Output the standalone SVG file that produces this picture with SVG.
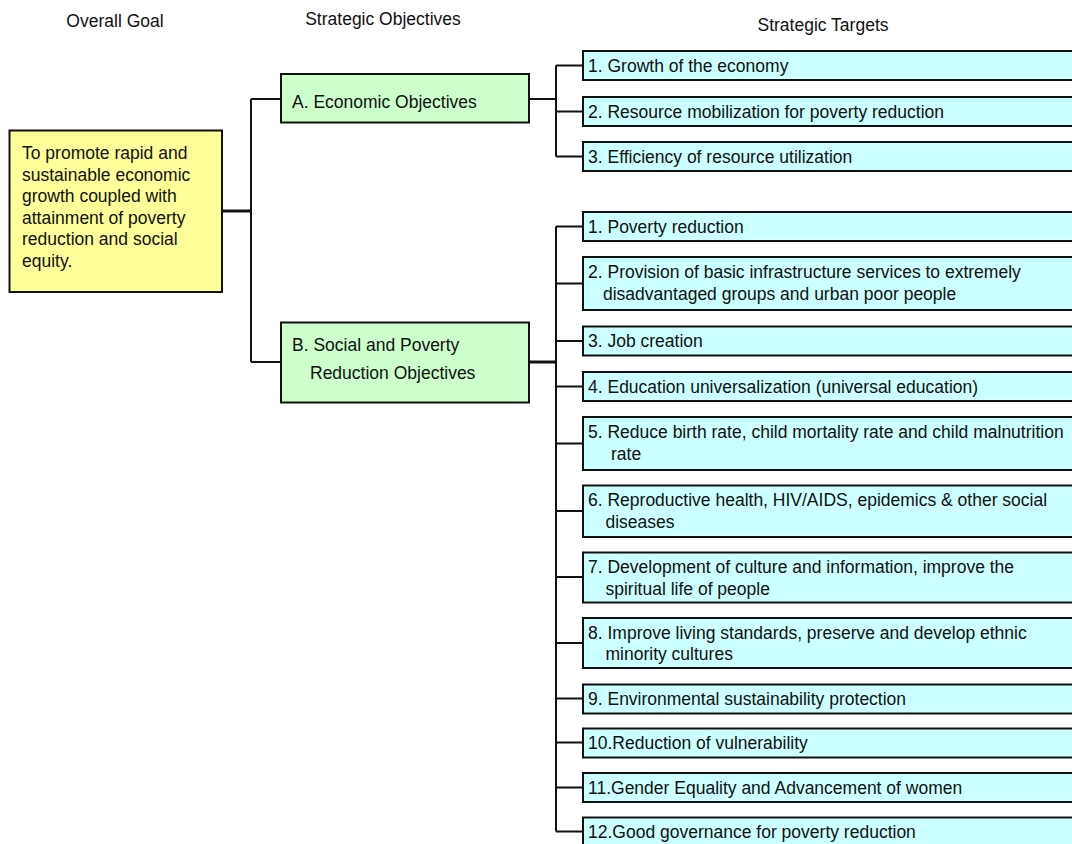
<svg xmlns="http://www.w3.org/2000/svg" width="1072" height="844" viewBox="0 0 1072 844">
  <style>
    text { font-family: "Liberation Sans", Arial, sans-serif; font-size: 17.5px; fill: #111; }
    .box { stroke: #111; stroke-width: 2; }
    .goal { fill: #FFFF99; }
    .obj { fill: #CCFFCC; }
    .tgt { fill: #CCFFFF; }
    .wire { fill: none; stroke: #111; stroke-width: 2; }
    .wire.bold { stroke-width: 3; }
    .head { text-anchor: middle; }
  </style>
  <rect width="1072" height="844" fill="#ffffff"/>

  <!-- column headings -->
  <g id="headings">
    <text class="head" x="115" y="27">Overall Goal</text>
    <text class="head" x="383" y="25">Strategic Objectives</text>
    <text class="head" x="823" y="31">Strategic Targets</text>
  </g>

  <!-- connectors -->
  <g id="connectors">
    <path class="wire bold" d="M222 211 H251"/>
    <path class="wire" d="M251 99 V362 M251 99 H281 M251 362 H281"/>
    <path class="wire" d="M529 99 H556 M556 65.5 V156.5 M556 65.5 H583 M556 111.5 H583 M556 156.5 H583"/>
    <path class="wire bold" d="M529 362 H556"/>
    <path class="wire" d="M556 226.5 V831.5
      M556 226.5 H583 M556 283.5 H583 M556 341 H583 M556 386.5 H583
      M556 443.5 H583 M556 511 H583 M556 577 H583 M556 643 H583
      M556 698.5 H583 M556 742.5 H583 M556 787.5 H583 M556 831.5 H583"/>
  </g>

  <!-- overall goal -->
  <g id="goal">
    <rect class="box goal" x="9.5" y="130.5" width="212.5" height="161.5"/>
    <text x="22" y="159">To promote rapid and</text>
    <text x="22" y="180.6">sustainable economic</text>
    <text x="22" y="202.2">growth coupled with</text>
    <text x="22" y="223.8">attainment of poverty</text>
    <text x="22" y="245.4">reduction and social</text>
    <text x="22" y="267">equity.</text>
  </g>

  <!-- strategic objectives -->
  <g id="obj-a">
    <rect class="box obj" x="281" y="74" width="248" height="48.5"/>
    <text x="292" y="108">A. Economic Objectives</text>
  </g>
  <g id="obj-b">
    <rect class="box obj" x="281" y="322.5" width="248" height="80"/>
    <text x="292" y="351">B. Social and Poverty</text>
    <text x="310" y="378.5">Reduction Objectives</text>
  </g>

  <!-- economic targets -->
  <g id="econ-1">
    <rect class="box tgt" x="583" y="51" width="500" height="29"/>
    <text x="588" y="72">1. Growth of the economy</text>
  </g>
  <g id="econ-2">
    <rect class="box tgt" x="583" y="97" width="500" height="29"/>
    <text x="588" y="118">2. Resource mobilization for poverty reduction</text>
  </g>
  <g id="econ-3">
    <rect class="box tgt" x="583" y="142" width="500" height="29"/>
    <text x="588" y="163">3. Efficiency of resource utilization</text>
  </g>

  <!-- social and poverty reduction targets -->
  <g id="soc-1">
    <rect class="box tgt" x="583" y="212" width="500" height="29"/>
    <text x="588" y="233">1. Poverty reduction</text>
  </g>
  <g id="soc-2">
    <rect class="box tgt" x="583" y="257" width="500" height="53"/>
    <text x="588" y="277.5">2. Provision of basic infrastructure services to extremely</text>
    <text x="603" y="299.5">disadvantaged groups and urban poor people</text>
  </g>
  <g id="soc-3">
    <rect class="box tgt" x="583" y="326.5" width="500" height="29"/>
    <text x="588" y="347">3. Job creation</text>
  </g>
  <g id="soc-4">
    <rect class="box tgt" x="583" y="372" width="500" height="29"/>
    <text x="588" y="392.5">4. Education universalization (universal education)</text>
  </g>
  <g id="soc-5">
    <rect class="box tgt" x="583" y="417" width="500" height="53"/>
    <text x="588" y="438">5. Reduce birth rate, child mortality rate and child malnutrition</text>
    <text x="611" y="460">rate</text>
  </g>
  <g id="soc-6">
    <rect class="box tgt" x="583" y="485.5" width="500" height="51.5"/>
    <text x="588" y="506">6. Reproductive health, HIV/AIDS, epidemics &amp; other social</text>
    <text x="605.5" y="527.5">diseases</text>
  </g>
  <g id="soc-7">
    <rect class="box tgt" x="583" y="552.5" width="500" height="50"/>
    <text x="588" y="573">7. Development of culture and information, improve the</text>
    <text x="605.5" y="594.5">spiritual life of people</text>
  </g>
  <g id="soc-8">
    <rect class="box tgt" x="583" y="618" width="500" height="50"/>
    <text x="588" y="638.5">8. Improve living standards, preserve and develop ethnic</text>
    <text x="605.5" y="660">minority cultures</text>
  </g>
  <g id="soc-9">
    <rect class="box tgt" x="583" y="684.5" width="500" height="29"/>
    <text x="588" y="704.5">9. Environmental sustainability protection</text>
  </g>
  <g id="soc-10">
    <rect class="box tgt" x="583" y="728.5" width="500" height="29"/>
    <text x="588" y="748.5">10.Reduction of vulnerability</text>
  </g>
  <g id="soc-11">
    <rect class="box tgt" x="583" y="773" width="500" height="29"/>
    <text x="588" y="793.5">11.Gender Equality and Advancement of women</text>
  </g>
  <g id="soc-12">
    <rect class="box tgt" x="583" y="817.5" width="500" height="29"/>
    <text x="588" y="838">12.Good governance for poverty reduction</text>
  </g>
</svg>
